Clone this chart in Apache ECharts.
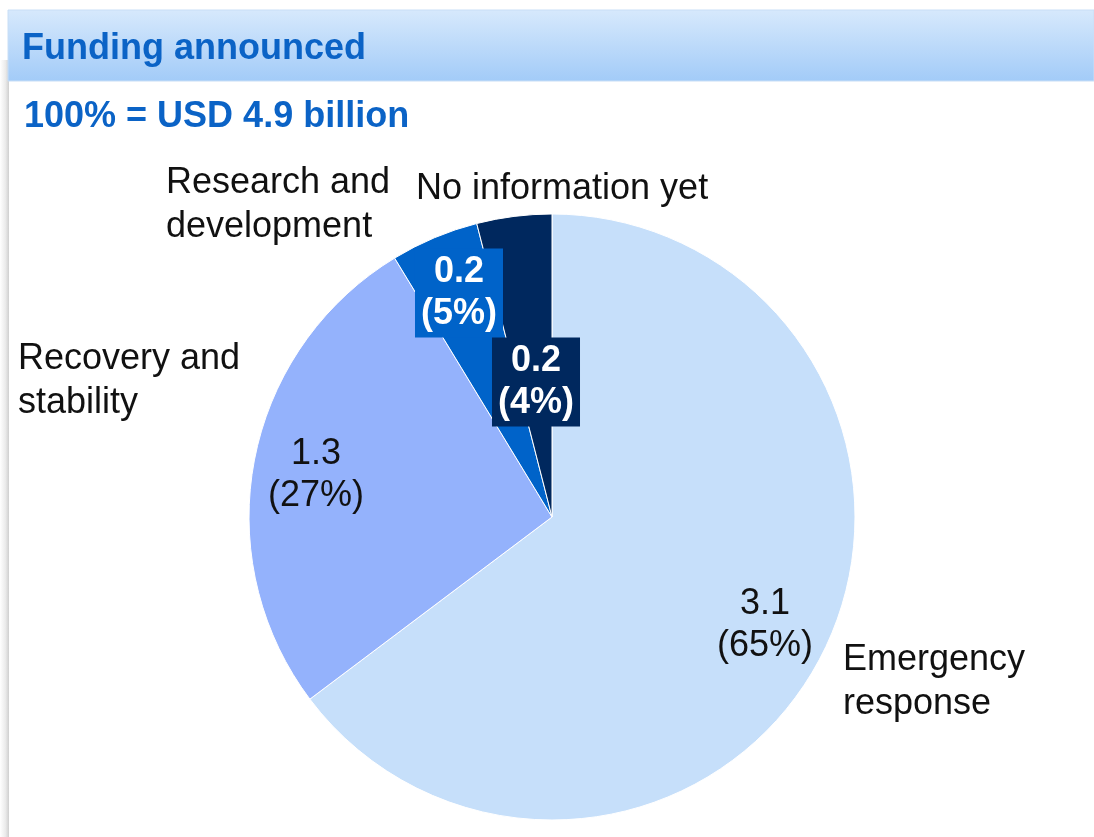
<!DOCTYPE html>
<html>
<head>
<meta charset="utf-8">
<script src="https://cdn.jsdelivr.net/npm/echarts@6/dist/echarts.min.js"></script>
<style>
  html, body { margin: 0; padding: 0; background: #fff; }
  #main { width: 1094px; height: 837px; }
</style>
</head>
<body>
<div id="main"></div>
<script>
    // 数据
    var categories = ['Emergency response', 'Recovery and stability', 'Research and development', 'No information yet'];
    var nameLabels = ['Emergency\nresponse', 'Recovery and\nstability', 'Research and\ndevelopment', 'No information yet'];
    var amounts = ['3.1', '1.3', '0.2', '0.2'];
    var shares = [64.8, 26.6, 4.7, 4.0];
    var shareLabels = ['65%', '27%', '5%', '4%'];
    var colors = ['#c6dffa', '#94b2fc', '#0063c9', '#00285e'];

    // 标签位置
    var valuePos = [[765, 625], [316, 475], [459, 293], [536, 382]];
    var namePos = [[843, 682], [18, 381], [166, 205], [416, 189]];

    var font = '"Liberation Sans", Arial, sans-serif';
    var chart = echarts.init(document.getElementById('main'));

    var pieData = [];
    var nameData = [];
    for (var i = 0; i < categories.length; i++) {
        var dark = i >= 2;
        pieData.push({
            name: categories[i],
            value: shares[i],
            itemStyle: { color: colors[i] },
            label: {
                color: dark ? '#fff' : '#111',
                fontWeight: dark ? 'bold' : 'normal',
                backgroundColor: dark ? colors[i] : 'transparent',
                padding: dark ? [3, 6, 2, 6] : 0
            }
        });
        nameData.push({ name: categories[i], value: shares[i] });
    }

    var option = {
        animation: false,
        graphic: [{
            type: 'rect',
            shape: { x: 0, y: 60, width: 9, height: 777 },
            style: {
                fill: {
                    type: 'linear', x: 0, y: 0, x2: 1, y2: 0,
                    colorStops: [{ offset: 0, color: '#ffffff' }, { offset: 0.6, color: '#ebebeb' }, { offset: 1, color: '#cfcfcf' }]
                }
            }
        }, {
            type: 'rect',
            shape: { x: 8, y: 10, width: 1086, height: 71 },
            style: {
                fill: {
                    type: 'linear', x: 0, y: 0, x2: 0, y2: 1,
                    colorStops: [{ offset: 0, color: '#d7e9fc' }, { offset: 1, color: '#a2cbf8' }]
                },
                stroke: '#c8def6',
                lineWidth: 1
            }
        }, {
            type: 'text',
            left: 22, top: 31,
            style: { text: 'Funding announced', fill: '#0b63c6', font: 'bold 36px ' + font }
        }, {
            type: 'text',
            left: 24, top: 99,
            style: { text: '100% = USD 4.9 billion', fill: '#0b63c6', font: 'bold 36px ' + font }
        }],
        series: [{
            type: 'pie',
            center: [552, 517],
            radius: 303,
            startAngle: 90,
            clockwise: true,
            silent: true,
            itemStyle: { borderColor: '#fff', borderWidth: 1 },
            label: {
                show: true,
                position: 'inside',
                fontFamily: font,
                fontSize: 36,
                lineHeight: 42,
                align: 'center',
                formatter: function (p) {
                    return amounts[p.dataIndex] + '\n(' + shareLabels[p.dataIndex] + ')';
                }
            },
            labelLayout: function (p) {
                return { x: valuePos[p.dataIndex][0], y: valuePos[p.dataIndex][1], align: 'center', verticalAlign: 'middle' };
            },
            data: pieData
        }, {
            type: 'pie',
            center: [552, 517],
            radius: 303,
            startAngle: 90,
            clockwise: true,
            silent: true,
            itemStyle: { color: 'transparent', borderWidth: 0 },
            labelLine: { show: false },
            label: {
                show: true,
                position: 'outside',
                color: '#111',
                fontFamily: font,
                fontSize: 36,
                lineHeight: 44,
                overflow: 'none',
                width: 400,
                formatter: function (p) { return nameLabels[p.dataIndex]; }
            },
            labelLayout: function (p) {
                return { x: namePos[p.dataIndex][0], y: namePos[p.dataIndex][1], align: 'left', verticalAlign: 'middle', hideOverlap: false };
            },
            data: nameData
        }]
    };
    chart.setOption(option);
</script>
</body>
</html>
